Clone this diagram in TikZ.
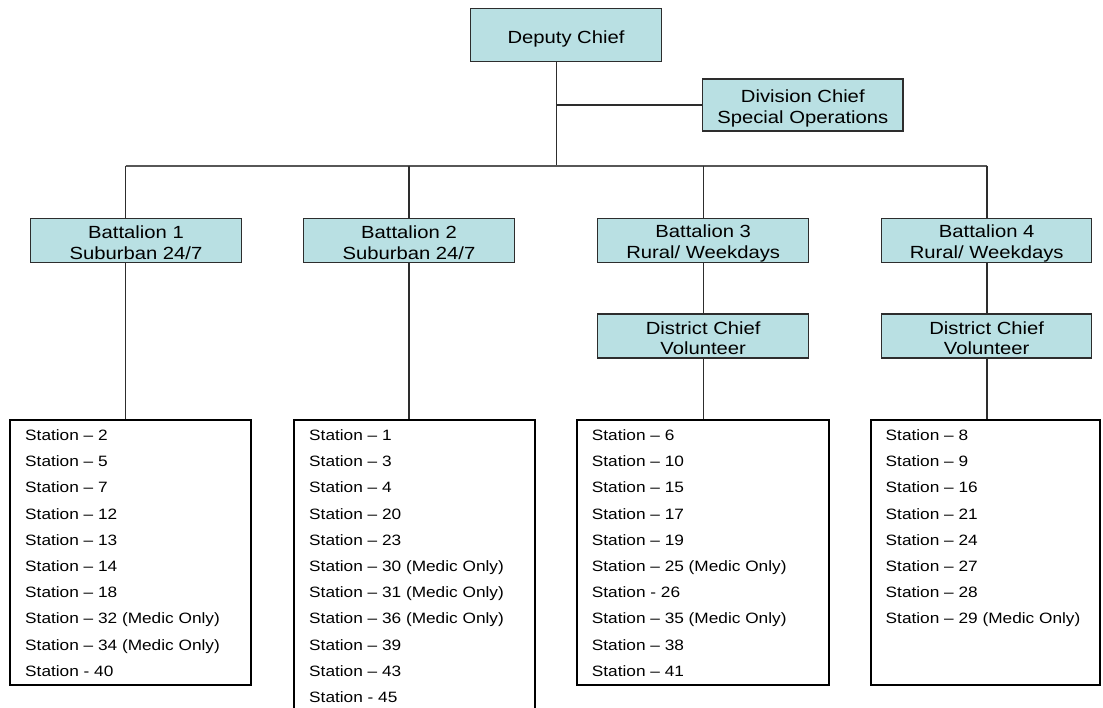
\documentclass[tikz,border=0pt]{standalone}
\usepackage{fontspec}
\setmainfont{Liberation Sans}[FakeStretch=1.15]
\definecolor{boxfill}{RGB}{185,224,227}
\definecolor{edge}{RGB}{45,45,45}
% invisible strut that lowers the first text line inside a unit box
\newcommand\ustrut[1]{\rule{0pt}{#1}}
\begin{document}
\begin{tikzpicture}[x=1pt,y=-1pt,
  unit/.style={draw=edge, line width=1.3pt, fill=boxfill, inner sep=0pt, align=center,
    font=\fontsize{17.6}{20.7}\selectfont, minimum height=44pt},
  stbox/.style={draw=black, line width=2.6pt, inner sep=0pt},
  stn/.style={anchor=base west, inner sep=0pt, font=\fontsize{15}{18}\selectfont},
  link/.style={draw=edge, line width=1.3pt},
  bus/.style={draw=edge!80, line width=1.8pt}]
\fill[white] (0,0) rectangle (1103,708);
\useasboundingbox (0,0) rectangle (1103,708);

% command units
\node[unit, minimum width=191.4pt, minimum height=53.4pt] (dep) at (566,35) {\ustrut{20pt}Deputy Chief};
\node[unit, minimum width=200.3pt, minimum height=52pt] (div) at (802.8,105) {\ustrut{20pt}Division Chief\\Special Operations};
\node[unit, minimum width=210.6pt] (b1) at (136,240.3) {\ustrut{18pt}Battalion 1\\Suburban 24/7};
\node[unit, minimum width=210.6pt] (b2) at (409,240.3) {\ustrut{18pt}Battalion 2\\Suburban 24/7};
\node[unit, minimum width=211pt] (b3) at (703.2,240.3) {\ustrut{18.5pt}Battalion 3\\Rural/ Weekdays};
\node[unit, minimum width=210pt] (b4) at (986.7,240.3) {\ustrut{18.5pt}Battalion 4\\Rural/ Weekdays};
\node[unit, minimum width=211pt] (d3) at (703.2,336) {\ustrut{17pt}District Chief\\Volunteer};
\node[unit, minimum width=210pt] (d4) at (986.7,336) {\ustrut{17pt}District Chief\\Volunteer};

% station list frames
\node[stbox, minimum width=241pt, minimum height=265pt] (s1) at (130.5,552.5) {};
\node[stbox, minimum width=241pt, minimum height=292pt] (s2) at (414.5,566) {};
\node[stbox, minimum width=252pt, minimum height=265pt] (s3) at (703,552.5) {};
\node[stbox, minimum width=229pt, minimum height=265pt] (s4) at (985.5,552.5) {};

% station lists
\foreach \t [count=\i] in {Station – 2,Station – 5,Station – 7,Station – 12,Station – 13,
  Station – 14,Station – 18,Station – 32 (Medic Only),Station – 34 (Medic Only),Station - 40}
  \node[stn] (sa\i) at (25,{440.5+26.2*(\i-1)}) {\t};
\foreach \t [count=\i] in {Station – 1,Station – 3,Station – 4,Station – 20,Station – 23,
  Station – 30 (Medic Only),Station – 31 (Medic Only),Station – 36 (Medic Only),
  Station – 39,Station – 43,Station - 45}
  \node[stn] (sb\i) at (309,{440.5+26.2*(\i-1)}) {\t};
\foreach \t [count=\i] in {Station – 6,Station – 10,Station – 15,Station – 17,Station – 19,
  Station – 25 (Medic Only),Station - 26,Station – 35 (Medic Only),Station – 38,Station – 41}
  \node[stn] (sc\i) at (591.7,{440.5+26.2*(\i-1)}) {\t};
\foreach \t [count=\i] in {Station – 8,Station – 9,Station – 16,Station – 21,Station – 24,
  Station – 27,Station – 28,Station – 29 (Medic Only)}
  \node[stn] (sd\i) at (885.5,{440.5+26.2*(\i-1)}) {\t};

% connectors
\coordinate (hub) at (556.7,165.7);
\coordinate (t1) at (125.7,165.7);
\coordinate (t2) at (409,165.7);
\coordinate (t3) at (703.3,165.7);
\coordinate (t4) at (987,165.7);
\draw[link] (dep.south -| hub) -- (hub);
\draw[link] (hub |- div.west) -- (div.west);
\draw[bus] (t1) -- (t4);
\draw[link] (t1) -- (t1 |- b1.north);
\draw[link] (t1 |- b1.south) -- (t1 |- s1.north);
\draw[link] (t2) -- (t2 |- b2.north);
\draw[link] (t2 |- b2.south) -- (t2 |- s2.north);
\draw[link] (t3) -- (t3 |- b3.north);
\draw[link] (t3 |- b3.south) -- (t3 |- d3.north);
\draw[link] (t3 |- d3.south) -- (t3 |- s3.north);
\draw[link] (t4) -- (t4 |- b4.north);
\draw[link] (t4 |- b4.south) -- (t4 |- d4.north);
\draw[link] (t4 |- d4.south) -- (t4 |- s4.north);
\end{tikzpicture}
\end{document}
